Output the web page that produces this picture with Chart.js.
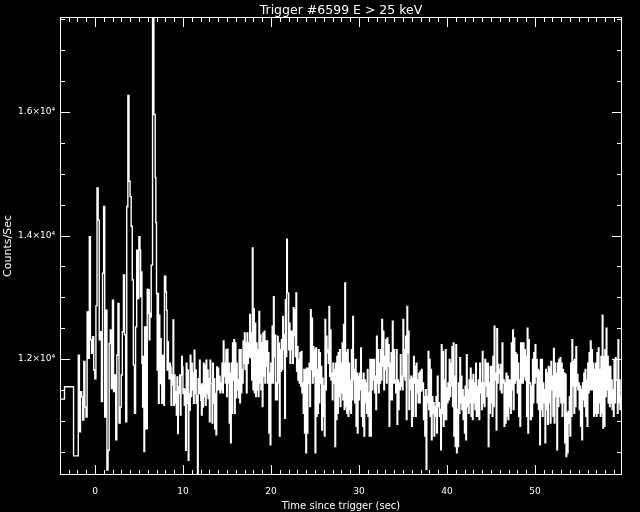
<!DOCTYPE html>
<html>
<head>
<meta charset="utf-8">
<script src="https://cdn.jsdelivr.net/npm/chart.js@4.4.1/dist/chart.umd.min.js"></script>
<style>
  html, body { margin: 0; padding: 0; background: #000; }
  #wrap { width: 640px; height: 512px; }
</style>
</head>
<body>
<div id="wrap"><canvas id="lc" width="640" height="512"></canvas></div>
<script>
const titleText = 'Trigger #6599 E > 25 keV';
const xTitle = 'Time since trigger (sec)';
const yTitle = 'Counts/Sec';

const xTickValues = [0, 10, 20, 30, 40, 50];
const yTickValues = [12000, 14000, 16000];
const yTickLabels = ['1.2×10⁴', '1.4×10⁴', '1.6×10⁴'];

// coarse 1 s bins before the fine data starts
const preStart = [-4.49, -3.47, -2.44];
const preCounts = [11350, 11550, 10430];

// fine data in stretches; boundaries in sec
const segBounds = [-1.90, 5.11, 13.98, 22.84, 31.70, 40.57, 49.43, 59.90];

const segA = [
  12060, 10820, 11470, 11390, 11010, 11960, 11220, 11060, 12760, 12010,
  13980, 12310, 12090, 12360, 11820, 11680, 12860, 14770, 14250, 12310,
  12440, 11310, 13390, 14470, 11060, 12790, 10200, 10520, 12250, 12470,
  11520, 12950, 11470, 11740, 10690, 12060, 12900, 10960, 11220, 11740,
  12440, 13360, 12390, 10980, 14470, 16270, 14880, 14630, 14150, 13280,
  11900, 11120, 12520, 13760, 12980, 13980
];
const segB = [
  13760, 13010, 13410, 11930, 11220, 12040, 10500, 12520, 10870, 12520,
  10870, 13130, 12740, 13120, 12310, 12740, 12680, 13520, 13520, 17900,
  17900, 15960, 15960, 14940, 14210, 13060, 11820, 13060, 11280, 12710,
  11600, 12330, 12060, 11280, 12060, 11820, 11250, 13340, 13340, 13090,
  12790, 11820, 12280, 11870, 11680, 11930, 11870, 11250, 11740, 11580,
  12630, 11250, 11740, 11280, 11470, 11090, 11710, 10790, 11440, 11550,
  11740, 11090, 11740, 12040, 11870, 11440, 11520, 11250, 11500, 10520,
  11930, 11280, 11820, 10360, 11440, 11170, 12060, 11390, 11930, 11500,
  11770, 11280, 12140, 11440, 11820, 11280, 11410, 10120, 11680, 11440,
  11980, 11580, 11330, 11090, 11600, 11220, 11930, 11390, 11900, 11250,
  11980, 11440, 11820, 11360, 11680, 10980, 11980, 11600, 11600, 10960,
  11930, 11280, 11680, 10870, 11440, 10770, 11870, 11500
];
const segC = [
  11850, 11500, 11720, 11450, 11610, 11500, 11930, 11450, 12290, 11720,
  11930, 11610, 12150, 11390, 12160, 11610, 11930, 10960, 11770, 10640,
  11930, 11120, 12260, 11660, 12310, 11120, 12260, 11370, 11930, 11500,
  11660, 11370, 12150, 11290, 12150, 11450, 11830, 11610, 12290, 11930,
  12420, 11830, 12260, 11450, 12420, 11930, 12260, 12040, 12720, 12020,
  12420, 11660, 13800, 11500, 12810, 11450, 12580, 11390, 12260, 11500,
  12150, 11390, 12770, 11610, 12390, 11500, 12260, 11230, 12420, 11720,
  12450, 11610, 12290, 11880, 12290, 11610, 12100, 10800, 11770, 10610,
  11930, 11610, 12530, 11610, 13010, 12040, 12390, 11340, 11610, 11340,
  12370, 11610, 12260, 10750, 12150, 11800, 12310, 11830, 12690, 12150,
  12390, 11040, 12960, 12040, 13940, 13070, 13070, 12150, 12580, 11930,
  12450, 12150, 12450, 11930, 12830, 12370, 12800, 12040
];
const segD = [
  13070, 11800, 12200, 11660, 11990, 11610, 12100, 11560, 12120, 11450,
  11610, 11120, 11830, 10800, 11830, 10480, 11850, 10800, 11850, 11610,
  11930, 11230, 12800, 11830, 12660, 11610, 12200, 11720, 12150, 10480,
  12180, 11070, 11830, 11120, 12150, 11290, 12100, 11610, 11880, 10850,
  11690, 11070, 11560, 10750, 12640, 11500, 12370, 12100, 12150, 11930,
  12850, 11720, 12470, 11660, 11770, 11340, 11930, 11610, 11830, 10580,
  11930, 11020, 12040, 11120, 12100, 11390, 12150, 11230, 11930, 11450,
  12260, 11340, 12560, 11180, 13230, 11230, 12100, 11120, 12150, 11070,
  11930, 11180, 11660, 11120, 12150, 11340, 12690, 11660, 11830, 11290,
  11990, 10910, 11770, 10800, 11720, 11340, 11770, 11500, 12180, 11070,
  11660, 10910, 11770, 10750, 11660, 11290, 11610, 11120, 11830, 11070,
  11450, 10750, 11990, 10750, 11990, 11500, 11990, 11660
];
const segE = [
  11990, 11450, 11720, 11180, 12370, 11610, 12150, 11450, 11930, 11610,
  12150, 11660, 12640, 11880, 12450, 11500, 12040, 11830, 12310, 11610,
  12340, 11880, 12230, 10910, 11930, 11340, 12100, 11340, 12610, 11610,
  12150, 11660, 11610, 11450, 12150, 10940, 11660, 11180, 11610, 11500,
  12070, 11560, 11720, 11500, 12640, 11720, 12150, 11660, 12370, 11020,
  12850, 12100, 12450, 11180, 11660, 11500, 11720, 10910, 11690, 11070,
  12040, 11610, 11880, 11070, 11930, 11450, 11660, 11290, 11770, 11290,
  11800, 11480, 11830, 11500, 11610, 11020, 11390, 10750, 11500, 10210,
  11390, 11290, 12120, 11180, 11990, 11070, 11830, 10690, 11390, 11120,
  11290, 10750, 11230, 11070, 11390, 10800, 11720, 11230, 11290, 11070,
  11180, 10530, 12230, 11120, 12120, 10910, 11660, 11020, 12150, 11020,
  11530, 11290, 11610, 11340, 11990, 11390, 11930, 11560
];
const segF = [
  12200, 11230, 12260, 10750, 11720, 10580, 12230, 10480, 11180, 10580,
  11610, 11120, 12020, 11290, 11720, 11180, 11500, 11020, 11390, 10800,
  11560, 10690, 12070, 11230, 11500, 11120, 11660, 11290, 11850, 11070,
  11660, 11020, 11750, 11290, 11610, 11180, 11930, 11070, 11560, 11070,
  11660, 11020, 11930, 11450, 11610, 11180, 12120, 11290, 11610, 11230,
  11990, 11560, 11930, 11390, 11930, 10580, 11610, 11120, 11880, 11290,
  11880, 11070, 12040, 11230, 12530, 11660, 11770, 10850, 12490, 11610,
  11910, 11770, 11830, 11500, 11910, 11450, 12260, 11610, 11660, 10910,
  11610, 10960, 11770, 11070, 11720, 11020, 11660, 11230, 11660, 11120,
  12260, 11500, 12470, 11180, 12340, 11610, 12100, 11660, 12070, 11450,
  11930, 11070, 11660, 10910, 12260, 11610, 12260, 11610, 12260, 11720,
  12150, 11660, 12040, 11070, 12500, 10800, 12310, 11610
];
const segG = [
  11610, 11020, 11560, 11070, 11990, 11290, 12100, 11610, 12230, 11720,
  11990, 11290, 11830, 11180, 11800, 10610, 11990, 11180, 11990, 11070,
  11610, 11290, 11500, 10640, 11830, 11180, 11770, 10940, 11880, 11290,
  11850, 10960, 11960, 11500, 11720, 11070, 12170, 10960, 11930, 11390,
  11770, 10530, 11930, 11230, 11990, 11390, 12020, 11290, 11930, 11070,
  11830, 11290, 11770, 10640, 11750, 10420, 11120, 10480, 11150, 10960,
  11390, 10750, 11930, 11070, 12310, 11560, 11960, 11120, 11990, 11230,
  12200, 11560, 11750, 11500, 11610, 11180, 11560, 10910, 11500, 10690,
  11610, 11340, 11770, 11230, 11830, 11070, 11660, 10910, 11930, 11450,
  12100, 11500, 12290, 11500, 12150, 11500, 11930, 11070, 11830, 11120,
  11930, 11070, 12100, 11120, 12180, 11290, 11830, 11070, 12040, 11120,
  12710, 10880, 12040, 10910, 12150, 11390, 12500, 11500, 12040, 11290,
  11880, 11230, 11880, 11290, 11660, 11180, 11500, 11070, 11990, 11290,
  12020, 11660, 11660, 11120, 12310, 11290, 11660, 11180, 11390, 11290
];

const segments = [segA, segB, segC, segD, segE, segF, segG];

// build stepped points: each value holds from its bin start to the next one
const points = [];
preStart.forEach((t, i) => points.push({ x: t, y: preCounts[i] }));
segments.forEach((vals, k) => {
  const t0 = segBounds[k];
  const dt = (segBounds[k + 1] - t0) / vals.length;
  vals.forEach((v, i) => points.push({ x: t0 + i * dt, y: v }));
});
points.push({ x: segBounds[segBounds.length - 1], y: segG[segG.length - 1] });

// IDL-like box with inward ticks on all four sides, plus the title
const framePlugin = {
  id: 'frame',
  afterDraw(chart) {
    const { ctx, chartArea: a, scales: { x, y } } = chart;
    ctx.save();
    ctx.strokeStyle = '#fff';
    ctx.lineWidth = 1;
    ctx.strokeRect(a.left + 0.5, a.top + 0.5, a.right - a.left - 1, a.bottom - a.top - 1);
    ctx.beginPath();
    for (let t = -3; t <= 59; t++) {
      const px = Math.round(x.getPixelForValue(t)) + 0.5;
      const len = xTickValues.includes(t) ? 10 : 5;
      ctx.moveTo(px, a.bottom); ctx.lineTo(px, a.bottom - len);
      ctx.moveTo(px, a.top); ctx.lineTo(px, a.top + len);
    }
    for (let v = 10500; v <= 17500; v += 500) {
      const py = Math.round(y.getPixelForValue(v)) + 0.5;
      const len = yTickValues.includes(v) ? 10 : 5;
      ctx.moveTo(a.left, py); ctx.lineTo(a.left + len, py);
      ctx.moveTo(a.right, py); ctx.lineTo(a.right - len, py);
    }
    ctx.stroke();
    ctx.fillStyle = '#fff';
    ctx.font = '12.5px "DejaVu Sans"';
    ctx.textAlign = 'center';
    ctx.textBaseline = 'alphabetic';
    ctx.fillText(titleText, (a.left + a.right) / 2, 14);
    ctx.restore();
  }
};

new Chart(document.getElementById('lc'), {
  type: 'line',
  data: {
    datasets: [{
      data: points,
      stepped: 'before',
      borderColor: '#fff',
      borderWidth: 1.4,
      pointRadius: 0,
      fill: false,
      tension: 0
    }]
  },
  options: {
    responsive: false,
    animation: false,
    devicePixelRatio: 1,
    layout: { padding: { top: 17, right: 18, left: 0, bottom: 0 } },
    plugins: { legend: { display: false }, tooltip: { enabled: false } },
    scales: {
      x: {
        type: 'linear',
        min: -3.98,
        max: 59.9,
        grid: { display: false, drawTicks: false },
        border: { display: false },
        afterFit: s => { s.height = 37; },
        afterBuildTicks: s => { s.ticks = xTickValues.map(v => ({ value: v })); },
        ticks: {
          color: '#fff',
          font: { family: 'DejaVu Sans', size: 9 },
          padding: 11,
          maxRotation: 0,
          autoSkip: false,
          callback: v => String(v)
        },
        title: {
          display: true,
          text: xTitle,
          color: '#fff',
          font: { family: 'DejaVu Sans', size: 10 },
          padding: { top: 0, bottom: 0 }
        }
      },
      y: {
        type: 'linear',
        min: 10120,
        max: 17540,
        grid: { display: false, drawTicks: false },
        border: { display: false },
        afterFit: s => { s.width = 60; },
        afterBuildTicks: s => { s.ticks = yTickValues.map(v => ({ value: v })); },
        ticks: {
          color: '#fff',
          font: { family: 'DejaVu Sans', size: 9 },
          padding: 5,
          callback: v => yTickLabels[yTickValues.indexOf(v)]
        },
        title: {
          display: true,
          text: yTitle,
          color: '#fff',
          font: { family: 'DejaVu Sans', size: 11 },
          padding: { top: 2, bottom: 0 }
        }
      }
    }
  },
  plugins: [framePlugin]
});
</script>
</body>
</html>
